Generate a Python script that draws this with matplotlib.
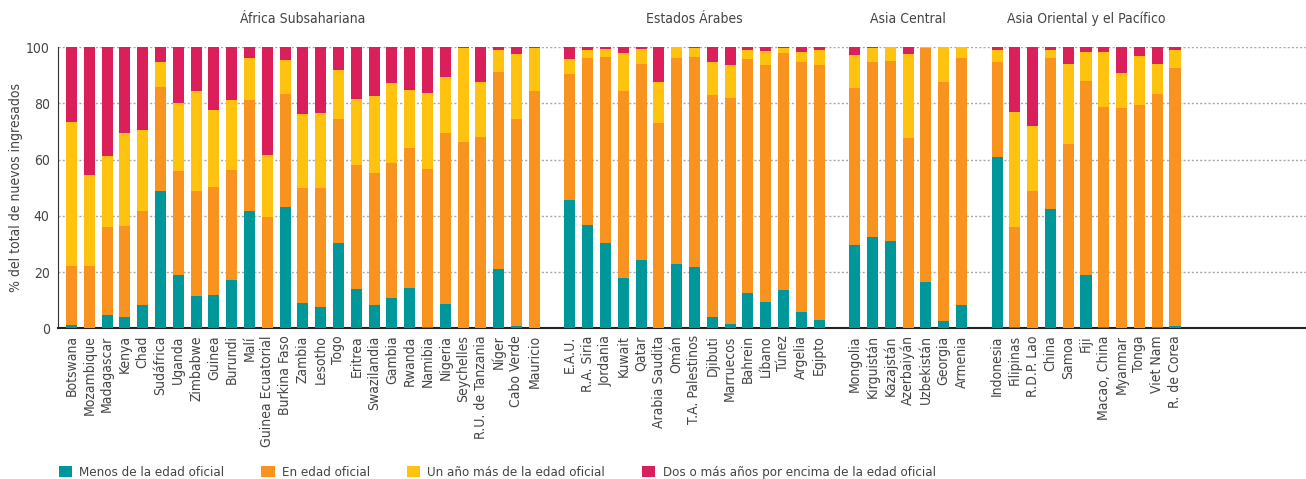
#!/usr/bin/env python3
"""Stacked bars: age of new entrants relative to official entry age, by region."""

import matplotlib.pyplot as plt
from matplotlib.patches import Patch

plt.rcParams["font.family"] = ["DejaVu Sans"]
plt.rcParams["font.stretch"] = "condensed"

# group titles and country names
GROUPS = ["África Subsahariana", "Estados Árabes", "Asia Central",
          "Asia Oriental y el Pacífico"]

africa = ["Botswana", "Mozambique", "Madagascar", "Kenya", "Chad", "Sudáfrica",
          "Uganda", "Zimbabwe", "Guinea", "Burundi", "Malí", "Guinea Ecuatorial",
          "Burkina Faso", "Zambia", "Lesotho", "Togo", "Eritrea", "Swazilandia",
          "Gambia", "Rwanda", "Namibia", "Nigeria", "Seychelles",
          "R.U. de Tanzania", "Níger", "Cabo Verde", "Mauricio"]
arab = ["E.A.U.", "R.A. Siria", "Jordania", "Kuwait", "Qatar", "Arabia Saudita",
        "Omán", "T.A. Palestinos", "Djibuti", "Marruecos", "Bahrein", "Líbano",
        "Túnez", "Argelia", "Egipto"]
central = ["Mongolia", "Kirguistán", "Kazajstán", "Azerbaiyán", "Uzbekistán",
           "Georgia", "Armenia"]
east = ["Indonesia", "Filipinas", "R.D.P. Lao", "China", "Samoa", "Fiji",
        "Macao, China", "Myanmar", "Tonga", "Viet Nam", "R. de Corea"]

# cumulative tops: below official age, + at official age, + one year over
africa_under = [1, 0, 4.7, 4.2, 8.3, 48.9, 19.0, 11.6, 11.9, 17.2, 41.8, 0, 43.2, 9.0,
                7.6, 30.4, 14.0, 8.3, 10.8, 14.4, 0.5, 8.7, 0, 0, 21.1, 0.8, 0]
africa_at = [22.2, 22.2, 36.1, 36.4, 41.8, 85.9, 56.0, 48.9, 50.3, 56.3, 81.3, 39.6,
             83.4, 49.9, 49.9, 74.5, 58.1, 55.3, 58.8, 64.2, 56.7, 69.5, 66.3, 68.1,
             91.2, 74.5, 84.5]
africa_one = [73.4, 54.6, 61.3, 69.5, 70.6, 94.8, 80.3, 84.5, 77.7, 81.3, 96.2, 61.7,
              95.5, 76.3, 76.6, 91.9, 81.6, 82.7, 87.3, 84.8, 83.7, 89.4, 99.6, 87.7,
              99.0, 97.6, 99.7]

arab_under = [45.7, 36.8, 30.4, 17.9, 24.3, 0, 22.9, 21.8, 4.0, 1.5, 12.6, 9.4, 13.6,
              5.8, 3.0]
arab_at = [90.5, 96.2, 96.6, 84.5, 94.1, 73.1, 96.2, 96.6, 83.0, 82.0, 95.8, 93.7,
           98.0, 94.8, 93.7]
arab_one = [95.8, 99.0, 99.4, 98.0, 99.4, 87.7, 100, 99.7, 94.8, 93.7, 99.0, 98.7,
            99.7, 98.3, 99.0]

central_under = [29.7, 32.5, 31.1, 0, 16.5, 2.6, 8.3]
central_at = [85.5, 94.8, 95.1, 67.7, 99.8, 87.7, 96.2]
central_one = [97.3, 99.7, 100, 97.6, 100, 100, 100]

east_under = [61.0, 0.5, 0, 42.5, 0, 19.0, 0.5, 0, 0, 0.5, 0.8]
east_at = [94.8, 36.1, 48.9, 96.2, 65.6, 88.0, 78.8, 78.4, 79.5, 83.4, 92.6]
east_one = [99.0, 77.0, 72.0, 99.0, 94.1, 98.3, 98.3, 90.9, 96.9, 94.1, 99.0]

SERIES = ["Menos de la edad oficial", "En edad oficial",
          "Un año más de la edad oficial",
          "Dos o más años por encima de la edad oficial"]
COLORS = ["#00979A", "#F7931E", "#FFC20E", "#DB1F5B"]
TEXT = "#444444"
FS = 10

names = [africa, arab, central, east]
unders = [africa_under, arab_under, central_under, east_under]
ats = [africa_at, arab_at, central_at, east_at]
ones = [africa_one, arab_one, central_one, east_one]

fig = plt.figure(figsize=(13.06, 4.79), dpi=100)
ax = fig.add_axes([0.0444, 0.3146, 0.9556, 0.5867])

xs_all, labels_all = [], []
pos = 0
for g, title in enumerate(GROUPS):
    xs = list(range(pos, pos + len(names[g])))
    u, a, o = unders[g], ats[g], ones[g]
    seg_at = [a[i] - u[i] for i in range(len(xs))]
    seg_one = [o[i] - a[i] for i in range(len(xs))]
    seg_two = [100 - o[i] for i in range(len(xs))]
    bottom = [0] * len(xs)
    for vals, c in zip([u, seg_at, seg_one, seg_two], COLORS):
        ax.bar(xs, vals, bottom=bottom, width=0.62, color=c, linewidth=0, zorder=3)
        bottom = [b + v for b, v in zip(bottom, vals)]
    ax.text((xs[0] + xs[-1]) / 2, 1.075, title, transform=ax.get_xaxis_transform(),
            ha="center", va="bottom", fontsize=FS, color=TEXT)
    xs_all += xs
    labels_all += names[g]
    pos += len(xs) + 1

ax.set_xlim(-0.76, 69.36)
ax.set_ylim(0, 100)
ax.set_yticks([0, 20, 40, 60, 80, 100])
ax.set_xticks(xs_all)
ax.set_xticklabels(labels_all, rotation=90, fontsize=FS, color=TEXT)
ax.tick_params(axis="both", length=0, labelsize=FS, labelcolor=TEXT)
ax.tick_params(axis="x", pad=5)
ax.tick_params(axis="y", pad=6)
ax.yaxis.grid(True, linestyle=(0, (1.5, 1.5)), color="#aaaaaa", linewidth=1, zorder=0)
for s in ["top", "right"]:
    ax.spines[s].set_visible(False)
ax.spines["left"].set_color("#333333")
ax.spines["bottom"].set_color("#222222")
ax.spines["bottom"].set_linewidth(1.5)
ax.set_ylabel("% del total de nuevos ingresados", fontsize=FS, color=TEXT, labelpad=2)

handles = [Patch(facecolor=c, edgecolor="none") for c in COLORS]
fig.legend(handles, SERIES, loc="lower left", bbox_to_anchor=(0.036, -0.025), ncol=4,
           frameon=False, fontsize=9.5, handlelength=1.0, handleheight=1.0,
           columnspacing=2.8, handletextpad=0.55, labelcolor=TEXT)

fig.savefig("out.png", dpi=100)
